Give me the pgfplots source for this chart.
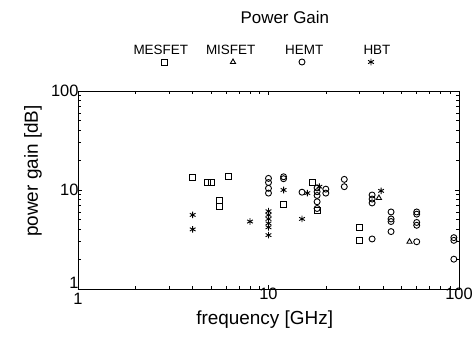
\documentclass[border=0pt]{standalone}
\usepackage{fontspec}
\setmainfont{Liberation Sans}
\usepackage{pgfplots}
\pgfplotsset{compat=1.18}
\pgfplotsset{
  legimg/.style 2 args={legend image code/.code={%
    \path[draw=none,fill=none] (-34bp,-5bp) rectangle (34bp,20bp);
    \draw[##1] plot coordinates {(0bp,0bp)};
    \node[draw=none,fill=none,anchor=base,inner sep=0pt,font=\fontsize{13.5}{13.5}\selectfont] at (#2,7bp) {#1};}},
  mk/.style={only marks, black, mark size=3bp, mark options={line width=0.9pt, solid}},
}
\begin{document}
\begin{tikzpicture}
\begin{axis}[
  scale only axis,
  width=381bp, height=198bp,
  xmode=log, ymode=log,
  xmin=1, xmax=100, ymin=1, ymax=100,
  xtick={1,10,100}, ytick={1,10,100},
  xticklabels={\raisebox{-4bp}[11.8bp][0pt]{1},10,100},
  yticklabels={\raisebox{6bp}[11.8bp][0pt]{1},10,100},
  tick style={black, line width=0.6pt},
  major tick length=4bp, minor tick length=3bp,
  axis line style={line width=0.9pt},
  ticklabel style={font=\fontsize{16.5}{16.5}\selectfont},
  xticklabel style={yshift=4bp},
  yticklabel style={xshift=4bp},
  xlabel={frequency [GHz]}, ylabel={power gain [dB]},
  every axis x label/.style={at={(axis description cs:0.49,-0.157)},anchor=center,font=\fontsize{19}{19}\selectfont},
  every axis y label/.style={at={(axis description cs:-0.118,0.596)},anchor=center,rotate=90,font=\fontsize{19}{19}\selectfont},
  title={Power Gain},
  every axis title/.style={at={(axis description cs:0.543,1.374)},anchor=center,font=\fontsize{17}{17}\selectfont},
  legend columns=4,
  legend style={draw=none, fill=none, inner sep=0pt, outer sep=0pt, column sep=0pt, row sep=0pt,
    nodes={inner sep=0pt, outer sep=0pt}, at={(axis description cs:0.4987,1.1212)}, anchor=south},
]
\addplot[mk, mark=square, legimg={MESFET}{-3.2bp}] coordinates {
(4,13.5) (4.8,12.0) (5.0,11.8) (5.5,7.9) (5.5,6.8) (6.2,13.6) (12,7.2) (17,11.9) (18,6.2) (30,4.2) (30,3.1)
};
\addlegendentry{}
\addplot[mk, mark=triangle, legimg={MISFET}{-2.3bp}] coordinates {
(38,8.3) (55,3.0)
};
\addlegendentry{}
\addplot[mk, mark=o, legimg={HEMT}{2.3bp}] coordinates {
(10,13.1) (10,11.9) (10,10.4) (10,9.3)
(12,13.6) (12,13.0)
(15,9.5)
(18,10.5) (18,9.6) (18,8.8) (18,7.6) (18,6.5)
(20,10.2) (20,9.3)
(25,12.8) (25,10.8)
(35,8.9) (35,8.1) (35,7.4) (35,3.2)
(44,6.0) (44,5.1) (44,4.8) (44,3.8)
(60,6.0) (60,5.7) (60,4.7) (60,4.4) (60,3.0)
(94,3.3) (94,3.1) (94,2.0)
};
\addlegendentry{}
\addplot[mk, mark=asterisk, mark size=3.3bp, legimg={HBT}{6bp}] coordinates {
(4,5.6) (4,4.0)
(8,4.8)
(10,6.1) (10,5.6) (10,5.1) (10,4.6) (10,4.2) (10,3.5)
(12,10.0)
(15,5.1)
(16,9.3)
(18.5,10.8)
(39,9.8)
};
\addlegendentry{}
\end{axis}
\path (-78bp,-49bp) rectangle (398bp,289bp);
\end{tikzpicture}
\end{document}
